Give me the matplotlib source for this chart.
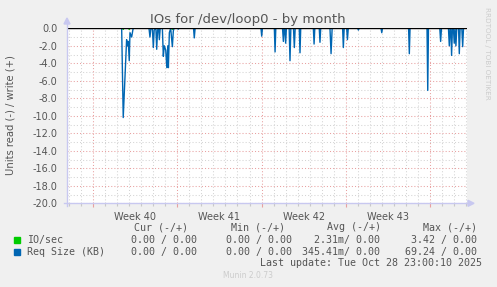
import matplotlib
matplotlib.use("Agg")
import matplotlib.pyplot as plt
from matplotlib.patches import Rectangle, Polygon
from matplotlib.lines import Line2D

# ---- data (x = days since Mon 29 Sep 2025 00:00) ----
req_x = [-2.16, 2.38, 2.51, 2.79, 2.87, 2.93, 3.01, 3.07, 3.21, 3.32, 3.37,
         4.65, 4.73, 4.80, 4.93, 5.01, 5.08, 5.22, 5.29, 5.36, 5.45, 5.51, 5.58,
         5.76, 5.84, 5.92, 6.04, 6.13, 6.21, 6.26, 6.34, 6.45, 6.59, 6.67, 6.73,
         7.02, 7.08, 7.14, 8.35, 8.41, 8.48,
         13.95, 14.01, 14.07, 15.06, 15.12, 15.18, 15.74, 15.81, 15.87, 15.93,
         16.0, 16.06, 16.29, 16.36, 16.43, 16.65, 16.72, 16.79, 17.13, 17.19, 17.25,
         18.30, 18.36, 18.42, 18.79, 18.85, 18.91, 19.68, 19.77, 19.86,
         20.73, 20.79, 20.86, 21.07, 21.13, 21.20, 21.98, 22.04, 22.10,
         23.92, 23.98, 24.04, 26.21, 26.27, 26.33, 27.74, 27.80, 27.86,
         28.80, 28.87, 28.94, 29.52, 29.59, 29.66, 29.72, 29.78, 29.85, 29.93,
         30.0, 30.07, 30.14, 30.21, 30.36, 30.42, 30.49, 30.63, 30.70, 30.77]
req_y = [0, 0, -10.2, -1.3, -2.0, -1.5, -3.7, -0.5, -1.0, -0.1, 0,
         0, -1.0, -0.1, 0, -2.2, -0.2, 0, -2.4, -0.2, 0, -1.3, 0,
         0, -3.2, -2.0, -2.5, -4.5, -2.0, -4.5, -0.5, 0, -2.1, -0.3, 0,
         0, -0.1, 0, 0, -1.1, 0,
         0, -0.9, 0, 0, -2.7, 0, 0, -1.5, 0, 0,
         -1.7, 0, 0, -3.7, 0, 0, -2.2, 0, 0, -2.8, 0,
         0, -1.8, 0, 0, -1.6, 0, 0, -2.9, 0,
         0, -2.2, 0, 0, -1.3, 0, 0, -0.2, 0,
         0, -0.5, 0, 0, -2.9, 0, 0, -7.1, 0,
         0, -1.5, 0, 0, -2.0, 0, 0, -3.1, 0, 0,
         -1.7, 0, -2.0, 0, 0, -2.9, 0, 0, -2.1, 0]
io_x = [-2.16, 2.45, 2.51, 2.57, 2.95, 3.01, 3.07, 6.53, 6.59, 6.65, 27.74, 27.80, 27.86, 30.77]
io_y = [0, 0, -0.12, 0, 0, -0.12, 0, 0, -0.12, 0, 0, -0.12, 0, 0]

week_starts = [0, 7, 14, 21, 28]
week_labels = ["Week 40", "Week 41", "Week 42", "Week 43"]
title = "IOs for /dev/loop0 - by month"
ylabel = "Units read (-) / write (+)"
legend_names = ["IO/sec", "Req Size (KB)"]
legend_colors = ["#00CC00", "#0066B3"]
col_headers = ["Cur (-/+)", "Min (-/+)", "Avg (-/+)", "Max (-/+)"]
io_vals = ["0.00 / 0.00", "0.00 / 0.00", "2.31m/ 0.00", "3.42 / 0.00"]
req_vals = ["0.00 / 0.00", "0.00 / 0.00", "345.41m/ 0.00", "69.24 / 0.00"]
last_update = "Last update: Tue Oct 28 23:00:10 2025"

W, H = 497, 287
fig = plt.figure(figsize=(W / 100, H / 100), dpi=100)
fig.patch.set_facecolor("#F0F0F0")

def fx(px):
    return px / W

def fy(py):
    return 1 - py / H

L, R, T, B = 67, 467, 28.3, 203.3
ax = fig.add_axes([fx(L), fy(B), (R - L) / W, (B - T) / H])
ax.set_facecolor("white")
x0, x1 = -2.16, 31.06
ax.set_xlim(x0, x1)
ax.set_ylim(-20, 0)

grid_minor = "#D4D4D4"
grid_major = "#E8A0A0"
dot = (0, (1, 2))
for d in range(-2, 32):
    if d % 7 == 0:
        continue
    ax.axvline(d, color=grid_minor, lw=0.75, ls=dot, zorder=1)
for d in week_starts:
    ax.axvline(d, color=grid_major, lw=0.75, ls=dot, zorder=1.5)
for v in range(-19, 0, 2):
    ax.axhline(v, color=grid_minor, lw=0.75, ls=dot, zorder=1)
for v in range(-20, 1, 2):
    ax.axhline(v, color=grid_major, lw=0.75, ls=dot, zorder=1.5)

ax.plot(io_x, io_y, color=legend_colors[0], lw=1.0, zorder=3)
ax.plot(req_x, req_y, color=legend_colors[1], lw=1.0, zorder=4)
ax.axhline(0, color="black", lw=1.0, zorder=5)

for s in ax.spines.values():
    s.set_visible(False)

ax.set_yticks(range(-20, 1, 2))
ax.set_yticklabels([f"{v:.1f}" for v in range(-20, 1, 2)])
ax.tick_params(axis="y", length=0, pad=7, labelsize=7, labelcolor="#555555")
ax.set_xticks(week_starts)
ax.set_xticklabels([])
ax.tick_params(axis="x", length=3, color=grid_major, width=0.8)
ax.set_xticks(range(-2, 32), minor=True)
ax.tick_params(axis="x", which="minor", length=2, color="#C8C8C8", width=0.8)
for i, lab in enumerate(week_labels):
    ax.text(week_starts[i] + 3.5, -20.95, lab, transform=ax.transData,
            ha="center", va="top", fontsize=7, color="#555555")

# axis lines with arrows
axcol = "#C8C8F0"
fig.add_artist(Line2D([fx(L), fx(L)], [fy(B + 3), fy(22)], color=axcol, lw=1.0))
fig.add_artist(Line2D([fx(L - 3), fx(R + 2)], [fy(B), fy(B)], color=axcol, lw=1.0))
fig.add_artist(Polygon([[fx(L - 3), fy(24)], [fx(L + 3), fy(24)], [fx(L), fy(18)]],
                       closed=True, color=axcol, transform=fig.transFigure))
fig.add_artist(Polygon([[fx(R + 1), fy(B - 3)], [fx(R + 1), fy(B + 3)], [fx(R + 7), fy(B)]],
                       closed=True, color=axcol, transform=fig.transFigure))

fig.text(fx(248), fy(19), title, ha="center", va="center", fontsize=9.5, color="#555555")
fig.text(fx(11), fy(115.5), ylabel, rotation=90, ha="center", va="center",
         fontsize=7.2, color="#555555")
fig.text(fx(487), fy(53), "RRDTOOL / TOBI OETIKER", rotation=270, ha="center",
         va="center", fontsize=5.2, color="#CCCCCC")

mono = "DejaVu Sans Mono"
fs = 7.2
tc = "#555555"
header_left = [134, 230.7, 326.7, 422.7]
val_right = [197, 292, 380, 477]
for i, h in enumerate(col_headers):
    fig.text(fx(header_left[i]), fy(227.3), h, family=mono, fontsize=fs, color=tc,
             ha="left", va="center")
rows_y = [239.7, 251.7]
for r, (name, col, vals) in enumerate(zip(legend_names, legend_colors, [io_vals, req_vals])):
    y = rows_y[r]
    fig.add_artist(Rectangle((fx(14), fy(y + 3)), 6 / W, 6 / H, color=col,
                             transform=fig.transFigure))
    fig.text(fx(26.7), fy(y), name, family=mono, fontsize=fs, color=tc, ha="left", va="center")
    for i, v in enumerate(vals):
        fig.text(fx(val_right[i]), fy(y), v, family=mono, fontsize=fs, color=tc,
                 ha="right", va="center")
fig.text(fx(482.5), fy(263.5), last_update, family=mono, fontsize=fs, color=tc,
         ha="right", va="center")
fig.text(fx(248), fy(276), "Munin 2.0.73", fontsize=5.5, color="#CCCCCC",
         ha="center", va="center")

fig.savefig("out.png", dpi=100, facecolor=fig.get_facecolor())
